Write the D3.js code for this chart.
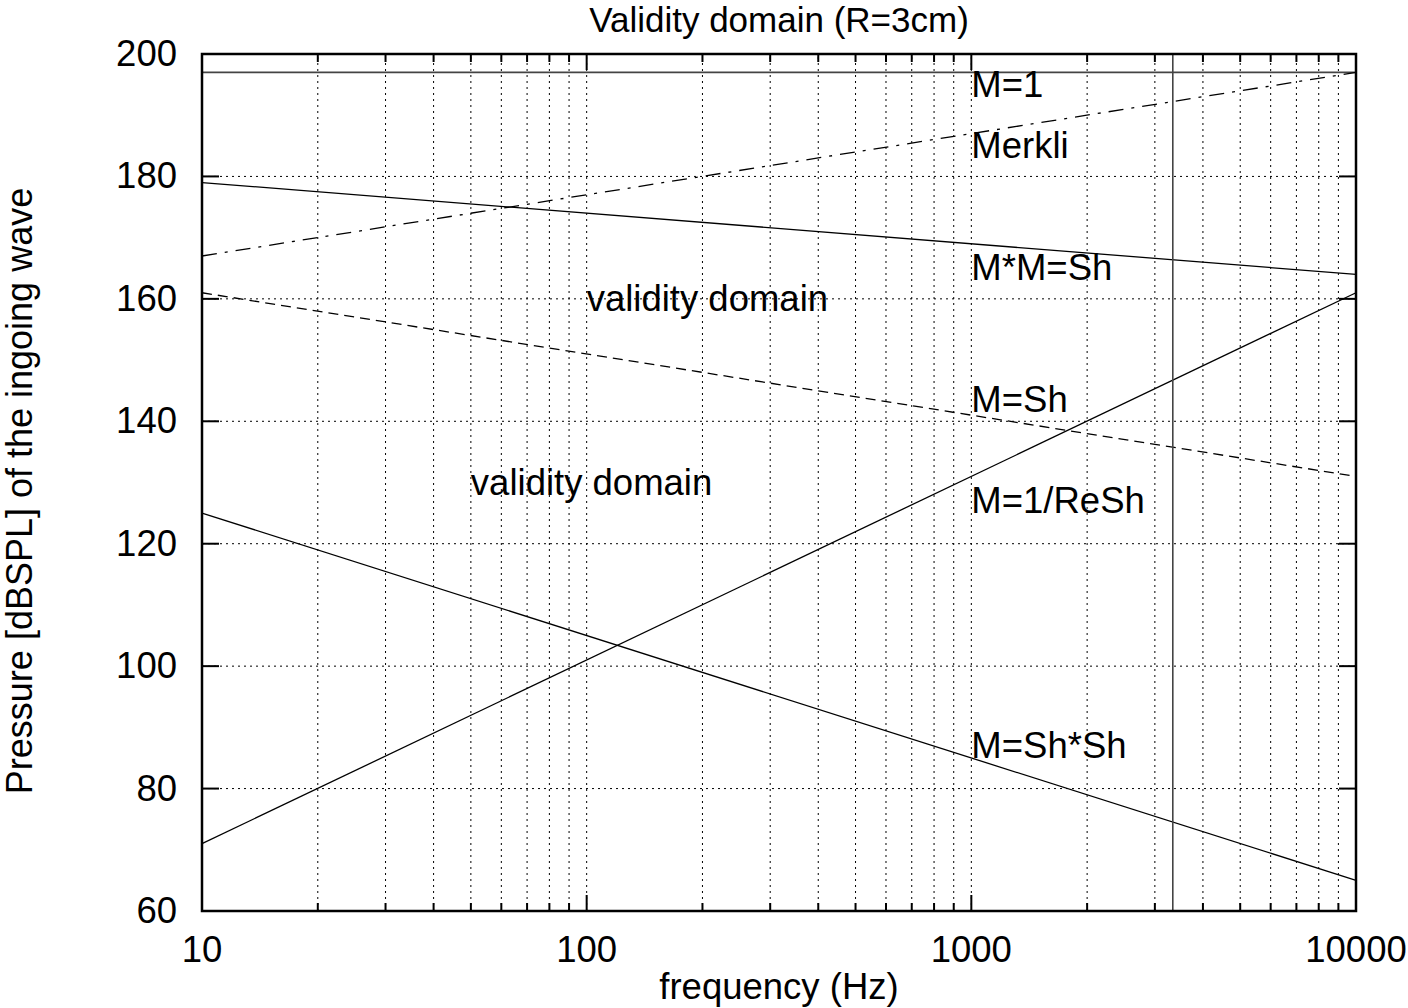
<!DOCTYPE html>
<html>
<head>
<meta charset="utf-8">
<script src="https://cdn.jsdelivr.net/npm/d3@7"></script>
<style>
  body { margin: 0; background: #fff; }
  svg text { font-family: "Liberation Sans", Arial, sans-serif; fill: #000; }
</style>
</head>
<body>
<div id="chart"></div>
<script>
// Chart data
const xDomain = [10, 10000];
const yDomain = [60, 200];
const xTickValues = [10, 100, 1000, 10000];
const yTickValues = [60, 80, 100, 120, 140, 160, 180, 200];

// each curve: value at 10 Hz and at 10000 Hz (straight in log-frequency)
const curveNames = ["M=1", "Merkli", "M*M=Sh", "M=Sh", "M=1/ReSh", "M=Sh*Sh"];
const curveStart = [197, 167, 179, 161, 71, 125];
const curveEnd = [197, 197, 164, 131, 161, 65];
const curveDash = [null, "15,8,3,8", null, "10,6", null, null];

const labelFreq = 1000;
const labelValues = [195, 185, 165, 143.5, 127, 87];

const domainLabels = ["validity domain", "validity domain"];
const domainFreq = [100, 50];
const domainValues = [160, 130];

const cutoffFreq = 3340;

const width = 1408, height = 1008;
const margin = { top: 54, right: 52, bottom: 97, left: 202 };
const fontSize = 36.5;

const svg = d3.select("#chart").append("svg")
    .attr("width", width)
    .attr("height", height);

const x = d3.scaleLog().domain(xDomain).range([margin.left, width - margin.right]);
const y = d3.scaleLinear().domain(yDomain).range([height - margin.bottom, margin.top]);

// Minor ticks for the log axis
const xMinor = [];
[10, 100, 1000].forEach(d => { for (let k = 2; k <= 9; k++) xMinor.push(d * k); });

// Grid
const grid = svg.append("g").attr("stroke", "#000").attr("stroke-width", 1)
    .attr("stroke-dasharray", "2,4");
grid.selectAll(".gx").data(xMinor.concat([100, 1000])).enter().append("line")
    .attr("x1", d => x(d)).attr("x2", d => x(d))
    .attr("y1", y(60)).attr("y2", y(200));
grid.selectAll(".gy").data(yTickValues.slice(1, -1)).enter().append("line")
    .attr("y1", d => y(d)).attr("y2", d => y(d))
    .attr("x1", x(10)).attr("x2", x(10000));

// Ticks (inside, on all four sides)
const ticks = svg.append("g").attr("stroke", "#000").attr("stroke-width", 2);
xTickValues.forEach(d => {
    ticks.append("line").attr("x1", x(d)).attr("x2", x(d)).attr("y1", y(60)).attr("y2", y(60) - 16);
    ticks.append("line").attr("x1", x(d)).attr("x2", x(d)).attr("y1", y(200)).attr("y2", y(200) + 16);
});
xMinor.forEach(d => {
    ticks.append("line").attr("x1", x(d)).attr("x2", x(d)).attr("y1", y(60)).attr("y2", y(60) - 8);
    ticks.append("line").attr("x1", x(d)).attr("x2", x(d)).attr("y1", y(200)).attr("y2", y(200) + 8);
});
yTickValues.forEach(d => {
    ticks.append("line").attr("y1", y(d)).attr("y2", y(d)).attr("x1", x(10)).attr("x2", x(10) + 17);
    ticks.append("line").attr("y1", y(d)).attr("y2", y(d)).attr("x1", x(10000)).attr("x2", x(10000) - 17);
});

// Tick labels
svg.append("g").selectAll("text").data(xTickValues).enter().append("text")
    .attr("x", d => x(d)).attr("y", y(60) + 51)
    .attr("text-anchor", "middle").attr("font-size", fontSize)
    .text(d => d);
svg.append("g").selectAll("text").data(yTickValues).enter().append("text")
    .attr("x", x(10) - 25).attr("y", d => y(d) + 12)
    .attr("text-anchor", "end").attr("font-size", fontSize)
    .text(d => d);

// Curves
const line = d3.line().x(d => x(d[0])).y(d => y(d[1]));
curveNames.forEach((name, i) => {
    svg.append("path")
        .datum([[xDomain[0], curveStart[i]], [xDomain[1], curveEnd[i]]])
        .attr("d", line)
        .attr("fill", "none")
        .attr("stroke", i === 0 ? "#444" : "#000")
        .attr("stroke-width", i === 0 ? 1.6 : 1.3)
        .attr("stroke-dasharray", curveDash[i]);
});

// Vertical cutoff line
svg.append("line")
    .attr("x1", x(cutoffFreq)).attr("x2", x(cutoffFreq))
    .attr("y1", y(60)).attr("y2", y(200))
    .attr("stroke", "#444").attr("stroke-width", 1.6);

// Curve labels
svg.append("g").selectAll("text").data(curveNames).enter().append("text")
    .attr("x", x(labelFreq)).attr("y", (d, i) => y(labelValues[i]) + 12)
    .attr("font-size", fontSize)
    .text(d => d);

svg.append("g").selectAll("text").data(domainLabels).enter().append("text")
    .attr("x", (d, i) => x(domainFreq[i])).attr("y", (d, i) => y(domainValues[i]) + 12)
    .attr("font-size", fontSize)
    .text(d => d);

// Border
svg.append("rect")
    .attr("x", x(10)).attr("y", y(200))
    .attr("width", x(10000) - x(10)).attr("height", y(60) - y(200))
    .attr("fill", "none").attr("stroke", "#000").attr("stroke-width", 2.5);

// Title and axis labels
svg.append("text").attr("x", (x(10) + x(10000)) / 2).attr("y", 32)
    .attr("text-anchor", "middle").attr("font-size", 35)
    .text("Validity domain (R=3cm)");
svg.append("text").attr("x", (x(10) + x(10000)) / 2).attr("y", 999)
    .attr("text-anchor", "middle").attr("font-size", fontSize)
    .text("frequency (Hz)");
svg.append("text")
    .attr("transform", `translate(32, 491) rotate(-90)`)
    .attr("text-anchor", "middle").attr("font-size", 36)
    .text("Pressure [dBSPL] of the ingoing wave");
</script>
</body>
</html>
